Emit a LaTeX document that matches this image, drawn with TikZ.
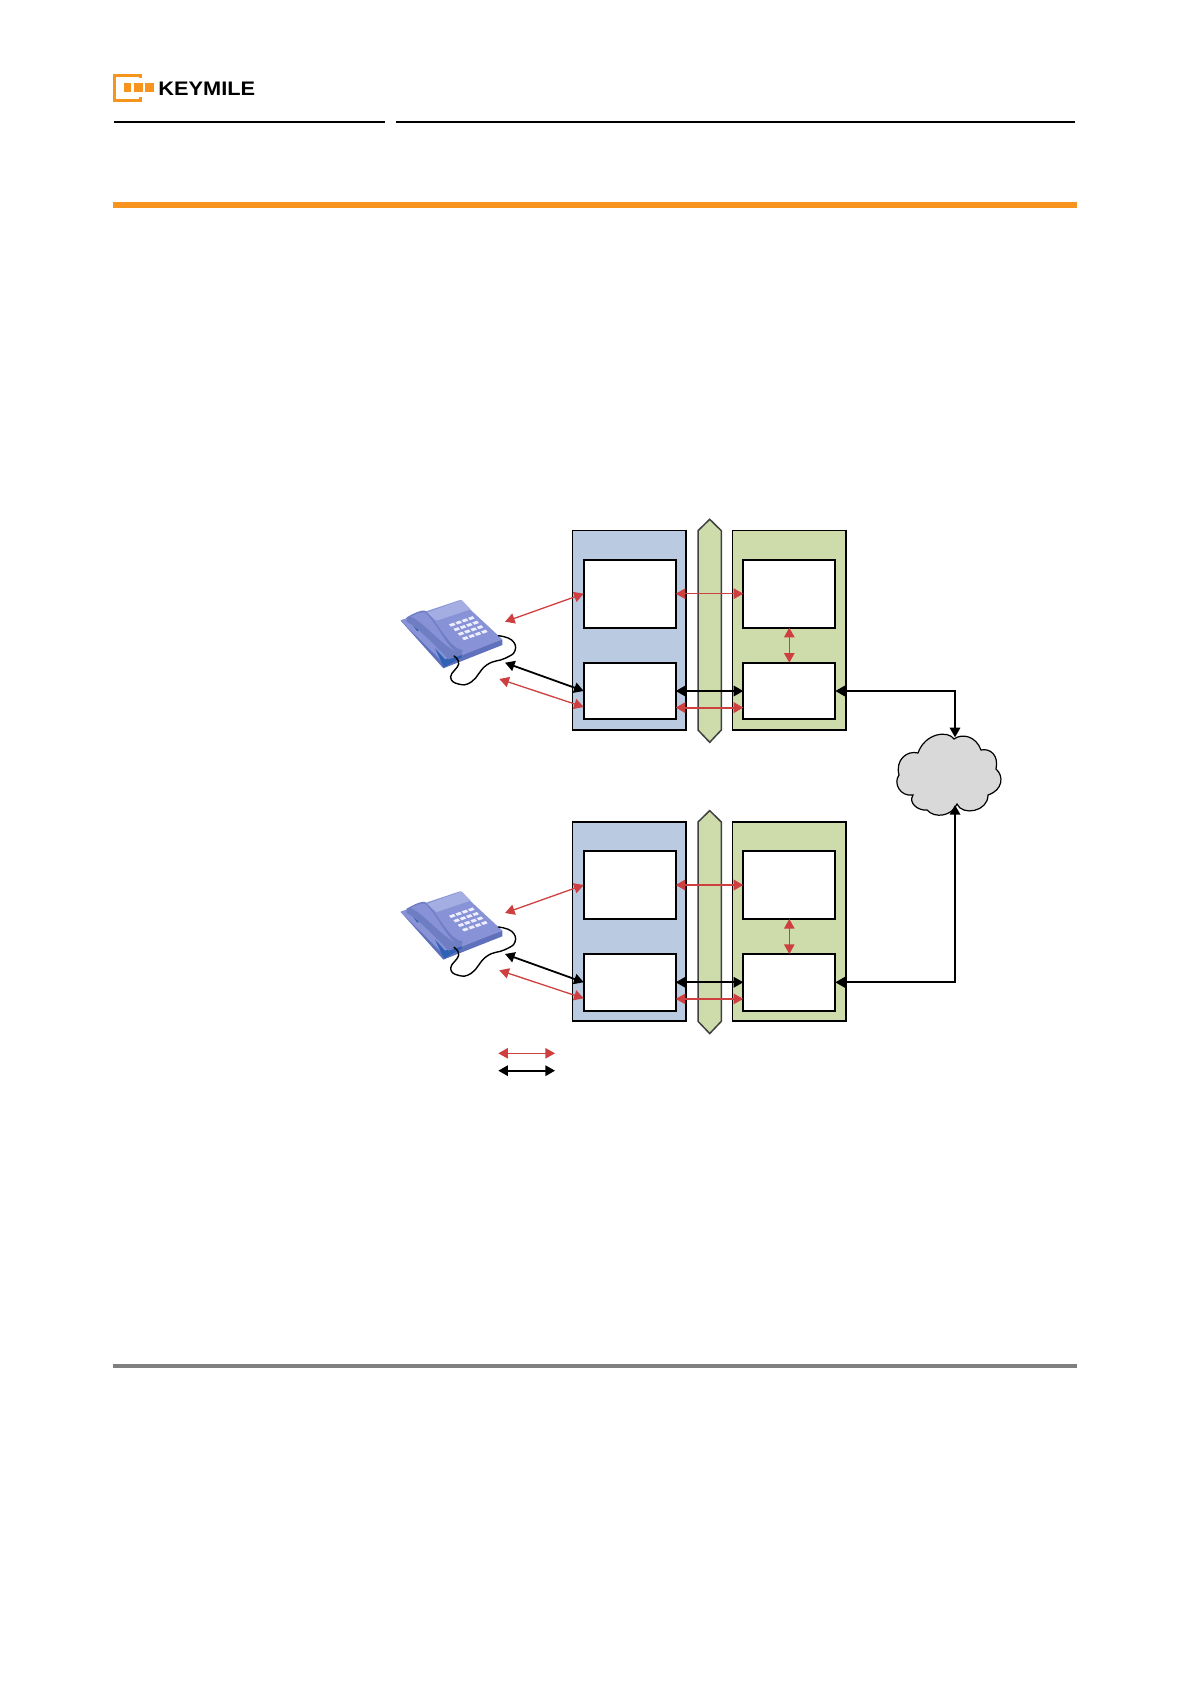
\documentclass[tikz,border=0pt]{standalone}
\usepackage{fontspec}
\newfontfamily\logofont{Liberation Sans}
\usetikzlibrary{arrows.meta}
\definecolor{kmorange}{HTML}{F7941E}
\definecolor{sigred}{HTML}{CE4040}
\definecolor{boardblue}{HTML}{B9CAE1}
\definecolor{boardgreen}{HTML}{CDDCAA}
\definecolor{phonedark}{HTML}{5F70BC}
\definecolor{phonemid}{HTML}{8793D6}
\definecolor{phonelight}{HTML}{A5AEE2}
\definecolor{phoneteal}{HTML}{2F62B4}
\tikzset{>={Triangle[length=4.8pt,width=5.2pt]},
board/.style={draw,line width=.75pt,inner sep=0,outer sep=0,anchor=north west,minimum width=56.6pt,minimum height=99.6pt},
tallcell/.style={draw,fill=white,line width=.9pt,inner sep=0,outer sep=0,anchor=north west,minimum width=46pt,minimum height=34pt},
lowcell/.style={tallcell,minimum height=28.3pt},
redsig/.style={<->,sigred,line width=.65pt},
redfat/.style={<->,sigred,line width=1.1pt},
blacksig/.style={<->,line width=.9pt}}
\begin{document}
\begin{tikzpicture}[x=.5pt,y=-.5pt]
\useasboundingbox (0,0) rectangle (1190,1684);
% page furniture
\draw[kmorange,line width=1.4pt] (140.6,78)--(140.6,75.4)--(114.7,75.4)--(114.7,100.3)--(140.6,100.3)--(140.6,97.5);
\foreach \x/\w in {124.3/6.4,134.3/8.6,145/9}{\fill[kmorange] (\x,83.3) rectangle +(\w,9);}
\node[inner sep=0,anchor=west,font=\logofont\bfseries\fontsize{9.8}{10}\selectfont,xscale=1.11] (logoname) at (158,89) {KEYMILE};
\fill (114,120.7) rectangle (385,122.7);
\fill (396,120.7) rectangle (1075,122.7);
\fill[kmorange] (113.3,202) rectangle (1076.7,208);
\fill[black!50] (113.3,1364) rectangle (1076.7,1368);
% cloud
\draw[fill=black!15,line width=.6pt] (954,739) .. controls (962,733) and (976,736) .. (981,750)
 .. controls (990,748) and (999,755) .. (996,769) .. controls (1004,776) and (1003,790) .. (988,795)
 .. controls (988,812) and (962,816) .. (957,804) .. controls (952,816) and (935,819) .. (927,810)
 .. controls (918,811) and (908,803) .. (913,795) .. controls (900,797) and (893,783) .. (899,775)
 .. controls (895,760) and (907,750) .. (918,753) .. controls (925,733) and (948,730) .. (954,739) -- cycle;
\coordinate (cloudTop) at (955,737.3);
\coordinate (cloudBot) at (955,805);
% the two lines
\foreach \r/\dy/\cld in {A/0/cloudTop,B/291.3/cloudBot}{
\node[board,fill=boardblue] (line\r) at (572.7,530.7+\dy) {};
\node[board,fill=boardgreen] (core\r) at (732.7,530.7+\dy) {};
\draw[fill=boardgreen,draw=black!75,line width=.75pt] (709.7,519.3+\dy)--(721.3,530.7+\dy)--(721.3,730+\dy)--(709.7,742.3+\dy)--(698,730+\dy)--(698,530.7+\dy)--cycle;
\node[tallcell] (lineTop\r) at (583.7,559.7+\dy) {};
\node[lowcell] (lineLow\r) at (583.7,662.7+\dy) {};
\node[tallcell] (coreTop\r) at (743.3,559.7+\dy) {};
\node[lowcell] (coreLow\r) at (743.3,662.7+\dy) {};
\begin{scope}[shift={(380,580+\dy)},scale=1/3]
\fill[phonedark] (62,122)--(190,265)--(367,195)--(367,178)--(190,240)--(70,118)--cycle;
\fill[phonemid] (62,122)--(85,112)--(240,60)--(367,178)--(190,248)--cycle;
\fill[phonelight] (140,98)--(245,60)--(272,88)--(170,122)--cycle;
\fill[phoneteal] (100,138)--(118,150)--(112,154)--cycle (165,205)--(195,238)--(245,222)--(245,232)--(192,262)--cycle;
\fill[phonedark!90!white] (80,112) .. controls (110,95) and (125,90) .. (135,92) .. controls (175,125) and (205,205) .. (248,210) -- (245,225) -- (205,238) .. controls (160,190) and (110,140) .. (80,125) -- cycle;
\fill[phonemid] (92,110) .. controls (110,100) and (125,96) .. (135,97) .. controls (170,130) and (195,190) .. (225,214) .. controls (170,180) and (130,125) .. (92,110) -- cycle;
\foreach \i in {0,...,3}{\foreach \j in {0,...,3}{
\fill[blue!7!white] (215+19*\i+13*\j-8,133-6.5*\i+13.5*\j)--++(14,-5)--++(6,7)--++(-14,5)--cycle;}}
\draw[line width=.7pt,line cap=round] plot[smooth,tension=.8] coordinates {(222,228) (236,252) (212,290) (235,312) (275,305) (320,255) (375,235) (405,212) (395,180) (355,167)};
\end{scope}
\coordinate (phoneRedUp\r) at (505,621.7+\dy);
\coordinate (phoneBlack\r) at (505,662.7+\dy);
\coordinate (phoneRedLow\r) at (499.3,679+\dy);
\draw[redsig] (phoneRedUp\r)--(lineTop\r.west);
\draw[blacksig] (phoneBlack\r)--(lineLow\r.west);
\draw[redsig] (phoneRedLow\r)--([yshift=-8pt]lineLow\r.west);
\draw[redsig] (coreTop\r.south)--(coreLow\r.north);
\draw[blacksig] (lineLow\r.east)--(coreLow\r.west);
\draw[blacksig] (coreLow\r.east) -| (\cld);
}
\draw[redsig] (lineTopA.east)--(coreTopA.west);
\draw[redfat] ([yshift=-8.3pt]lineLowA.east)--([yshift=-8.3pt]coreLowA.west);
\draw[redfat] (lineTopB.east)--(coreTopB.west);
\draw[redsig] ([yshift=-8.3pt]lineLowB.east)--([yshift=-8.3pt]coreLowB.west);
% legend
\coordinate (legRedL) at (498.3,1053.3);
\coordinate (legRedR) at (555,1053.3);
\coordinate (legBlackL) at (498.3,1070.7);
\coordinate (legBlackR) at (555,1070.7);
\draw[redsig] (legRedL)--(legRedR);
\draw[blacksig] (legBlackL)--(legBlackR);
\end{tikzpicture}
\end{document}
